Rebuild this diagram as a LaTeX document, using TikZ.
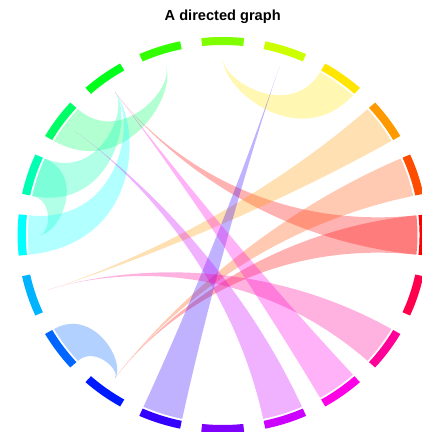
\documentclass[tikz,border=0pt]{standalone}
\usepackage{fontspec}
\setmainfont{Liberation Sans}
\usepackage{xcolor}
\usepackage{tikz}
\definecolor{hue0}{HTML}{FF0000}
\definecolor{hue1}{HTML}{FF4D00}
\definecolor{hue2}{HTML}{FF9900}
\definecolor{hue3}{HTML}{FFE500}
\definecolor{hue4}{HTML}{CCFF00}
\definecolor{hue5}{HTML}{80FF00}
\definecolor{hue6}{HTML}{33FF00}
\definecolor{hue7}{HTML}{00FF1A}
\definecolor{hue8}{HTML}{00FF66}
\definecolor{hue9}{HTML}{00FFB3}
\definecolor{hue10}{HTML}{00FFFF}
\definecolor{hue11}{HTML}{00B3FF}
\definecolor{hue12}{HTML}{0066FF}
\definecolor{hue13}{HTML}{001AFF}
\definecolor{hue14}{HTML}{3300FF}
\definecolor{hue15}{HTML}{8000FF}
\definecolor{hue16}{HTML}{CC00FF}
\definecolor{hue17}{HTML}{FF00E6}
\definecolor{hue18}{HTML}{FF0099}
\definecolor{hue19}{HTML}{FF004D}
\newcommand{\ringsector}[1]{\fill[fill=hue#1] (18*#1-6:198) arc[start angle=18*#1-6,end angle=18*#1+6,radius=198] -- (18*#1+6:190) arc[start angle=18*#1+6,end angle=18*#1-6,radius=190] -- cycle;}
\newcommand{\chordband}[2]{%
  \pgfmathsetmacro\bandA{18*#1+6}%
  \pgfmathsetmacro\bandB{18*#1-6}%
  \pgfmathsetmacro\bandT{18*#2}%
  \pgfmathsetmacro\bandHa{min(110,153*abs(sin((\bandA-\bandT)/2)))}%
  \pgfmathsetmacro\bandHb{min(110,153*abs(sin((\bandB-\bandT)/2)))}%
  \pgfmathsetmacro\bandSa{188-1.4*\bandHa}\pgfmathsetmacro\bandTa{177-0.6*\bandHa}%
  \pgfmathsetmacro\bandSb{188-1.4*\bandHb}\pgfmathsetmacro\bandTb{177-0.6*\bandHb}%
  \fill[band,fill=hue#1] (\bandA:188) arc[start angle=\bandA,end angle=\bandB,radius=188]
    .. controls (\bandB:\bandSb) and (\bandT:\bandTb) .. (\bandT:177)
    .. controls (\bandT:\bandTa) and (\bandA:\bandSa) .. (\bandA:188) -- cycle;}

\begin{document}
\begin{tikzpicture}[
  x=1pt,y=1pt,
  heading/.style={font=\bfseries\fontsize{14.6}{17}\selectfont,anchor=base,inner sep=0pt},
  band/.style={fill opacity=.3}
]
\clip (0,0) rectangle (422,432);
\node[heading] (title) at (222.7,411) {A directed graph};
\begin{scope}[shift={(222.7,197)},xscale=1.036]
\foreach \i in {0,...,19} {\ringsector{\i}}
% source/target
\foreach \s/\t in {0/7,0/13,1/13,2/11,3/5,8/6,9/7,9/10,10/7,12/13,14/4,16/8,17/7,18/11} {\chordband{\s}{\t}}
\end{scope}
\end{tikzpicture}
\end{document}
